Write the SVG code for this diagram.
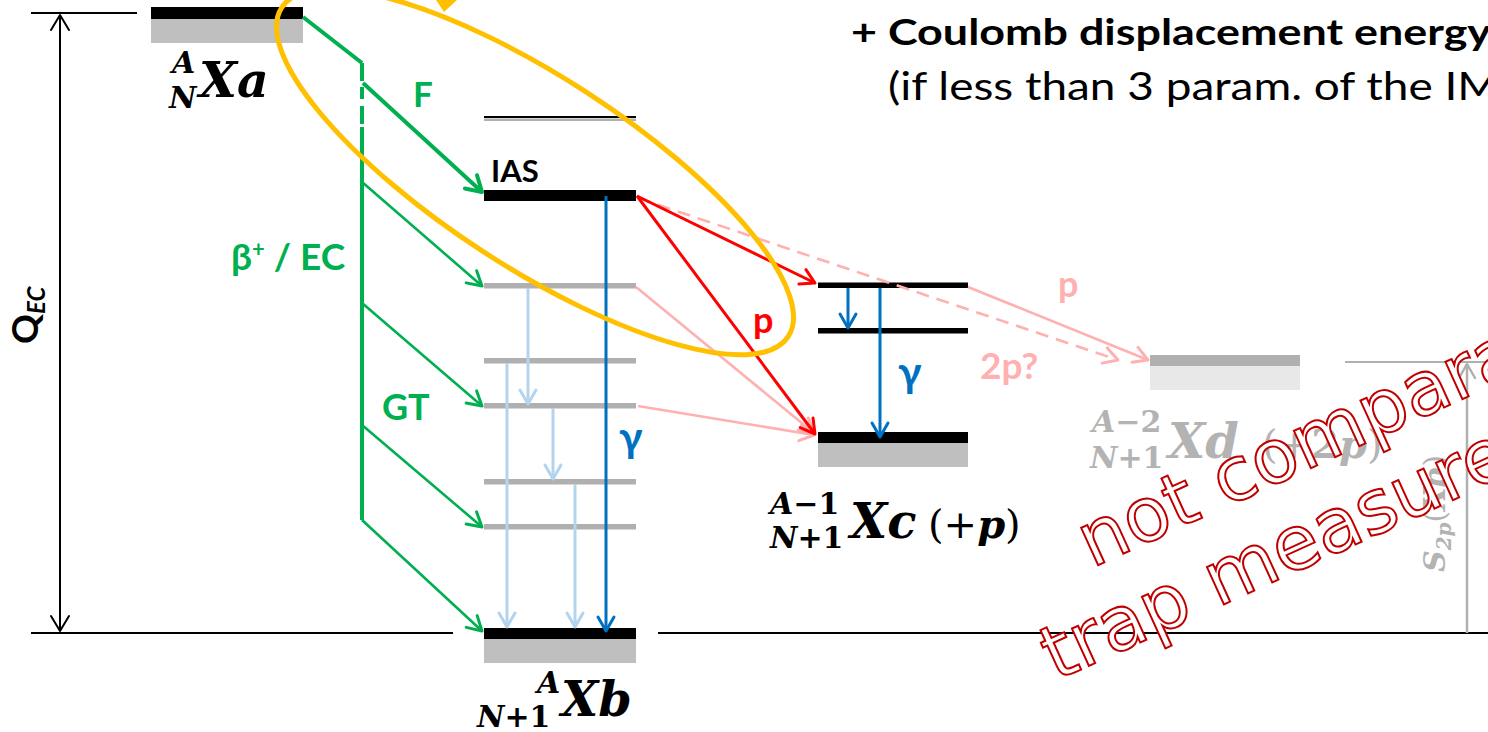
<svg xmlns="http://www.w3.org/2000/svg" width="1488" height="732" viewBox="0 0 1488 732">
<defs>
<style>
.sans{font-family:"Lato","Open Sans","Liberation Sans",sans-serif;font-weight:bold;}
.math{font-family:"DejaVu Serif","Liberation Serif",serif;font-weight:bold;}
.it{font-style:italic;}
.nb{font-weight:normal;}
.blk{fill:#000;}
.sh{fill:#bfbfbf;}
.gl{fill:#b0b0b0;}
.ln{stroke:#000;stroke-width:2;fill:none;}
.g4{stroke:#00b050;stroke-width:4;fill:none;stroke-linejoin:round;}
.g3{stroke:#00b050;stroke-width:2.6;fill:none;}
.red{stroke:#ff0000;stroke-width:3;fill:none;}
.pink{stroke:#ffb0b0;stroke-width:2.6;fill:none;}
.blue{stroke:#0070c0;stroke-width:3;fill:none;}
.lb{stroke:#b4d4ee;stroke-width:3;fill:none;}
.wm{font-family:"DejaVu Sans","Verdana",sans-serif;font-size:75px;fill:#fff;stroke:#c00000;stroke-width:2;}
</style>
<marker id="mG4" viewBox="-18 -11 22 22" refX="0" refY="0" markerWidth="22" markerHeight="22" markerUnits="userSpaceOnUse" orient="auto" overflow="visible"><path d="M-15,-9 L0,0 L-15,9" fill="none" stroke="#00b050" stroke-width="4" stroke-linecap="round" stroke-linejoin="round"/></marker>
<marker id="mG" viewBox="-18 -11 22 22" refX="0" refY="0" markerWidth="22" markerHeight="22" markerUnits="userSpaceOnUse" orient="auto" overflow="visible"><path d="M-14,-8 L0,0 L-14,8" fill="none" stroke="#00b050" stroke-width="3" stroke-linecap="round" stroke-linejoin="round"/></marker>
<marker id="mR" viewBox="-18 -11 22 22" refX="0" refY="0" markerWidth="22" markerHeight="22" markerUnits="userSpaceOnUse" orient="auto" overflow="visible"><path d="M-14,-8 L0,0 L-14,8" fill="none" stroke="#ff0000" stroke-width="3" stroke-linecap="round" stroke-linejoin="round"/></marker>
<marker id="mP" viewBox="-18 -11 22 22" refX="0" refY="0" markerWidth="22" markerHeight="22" markerUnits="userSpaceOnUse" orient="auto" overflow="visible"><path d="M-14,-8 L0,0 L-14,8" fill="none" stroke="#ffb0b0" stroke-width="3" stroke-linecap="round" stroke-linejoin="round"/></marker>
<marker id="mB" viewBox="-18 -11 22 22" refX="0" refY="0" markerWidth="22" markerHeight="22" markerUnits="userSpaceOnUse" orient="auto" overflow="visible"><path d="M-14,-8 L0,0 L-14,8" fill="none" stroke="#0070c0" stroke-width="3" stroke-linecap="round" stroke-linejoin="round"/></marker>
<marker id="mL" viewBox="-18 -11 22 22" refX="0" refY="0" markerWidth="22" markerHeight="22" markerUnits="userSpaceOnUse" orient="auto" overflow="visible"><path d="M-14,-8 L0,0 L-14,8" fill="none" stroke="#b4d4ee" stroke-width="3" stroke-linecap="round" stroke-linejoin="round"/></marker>
<marker id="mK" viewBox="-18 -11 22 22" refX="0" refY="0" markerWidth="22" markerHeight="22" markerUnits="userSpaceOnUse" orient="auto-start-reverse" overflow="visible"><path d="M-15,-9 L0,0 L-15,9" fill="none" stroke="#000" stroke-width="2" stroke-linecap="round" stroke-linejoin="round"/></marker>
<marker id="mY" viewBox="-18 -11 22 22" refX="0" refY="0" markerWidth="22" markerHeight="22" markerUnits="userSpaceOnUse" orient="auto" overflow="visible"><path d="M-14,-8 L0,0 L-14,8" fill="none" stroke="#b0b0b0" stroke-width="2.5" stroke-linecap="round" stroke-linejoin="round"/></marker>
</defs>
<rect width="1488" height="732" fill="#fff"/>

<g id="axes">
<line class="ln" x1="31" y1="13" x2="137" y2="13"/>
<line class="ln" x1="31" y1="633" x2="453" y2="633"/>
<line class="ln" x1="658" y1="633" x2="1488" y2="633"/>
<line class="ln" x1="60" y1="15" x2="60" y2="631" marker-start="url(#mK)" marker-end="url(#mK)"/>
<text class="sans" transform="translate(38,344) rotate(-90)" font-size="37">Q<tspan class="it" font-size="24" dy="7">EC</tspan></text>
<line x1="1345" y1="362" x2="1488" y2="362" stroke="#b0b0b0" stroke-width="2"/>
<line x1="1467" y1="633" x2="1467" y2="364" stroke="#b0b0b0" stroke-width="2.5" marker-end="url(#mY)"/>
</g>

<g id="level-a">
<rect class="blk" x="151" y="7" width="152" height="12"/>
<rect class="sh" x="151" y="19" width="152" height="24"/>
<text class="math it" x="172" y="73" font-size="30">A</text>
<text class="math it" x="169" y="108" font-size="30">N</text>
<text class="math it" x="199" y="97" font-size="49">Xa</text>
</g>

<g id="level-b">
<rect x="484" y="116" width="152" height="2" fill="#000"/>
<rect x="484" y="118.5" width="152" height="2.5" fill="#b0b0b0"/>
<rect class="blk" x="484" y="190" width="152" height="11"/>
<text class="sans" x="491" y="182" font-size="31">IAS</text>
<rect class="gl" x="484" y="283" width="152" height="5.5"/>
<rect class="gl" x="484" y="358" width="152" height="5.5"/>
<rect class="gl" x="484" y="403" width="152" height="5.5"/>
<rect class="gl" x="484" y="479" width="152" height="5.5"/>
<rect class="gl" x="484" y="524" width="152" height="5.5"/>
<rect class="blk" x="484" y="628" width="152" height="11"/>
<rect class="sh" x="484" y="639" width="152" height="24"/>
<text class="math it" x="537" y="693" font-size="30">A</text>
<text class="math" x="477" y="727" font-size="30"><tspan class="it">N</tspan>+1</text>
<text class="math it" x="561" y="716" font-size="48">Xb</text>
</g>

<g id="level-c">
<rect class="blk" x="818" y="282.5" width="150" height="5.5"/>
<rect class="blk" x="818" y="328" width="150" height="5.5"/>
<rect class="blk" x="818" y="432" width="150" height="11"/>
<rect class="sh" x="818" y="443" width="150" height="24"/>
<text class="math" x="770" y="514" font-size="30"><tspan class="it">A</tspan>−1</text>
<text class="math" x="770" y="548" font-size="30"><tspan class="it">N</tspan>+1</text>
<text class="math it" x="850" y="538" font-size="48">Xc</text>
<text class="math" x="928" y="538" font-size="40"><tspan class="nb">(+</tspan><tspan class="it">p</tspan><tspan class="nb">)</tspan></text>
</g>

<g id="level-d">
<rect x="1150" y="355" width="150" height="11" fill="#b0b0b0"/>
<rect x="1150" y="366" width="150" height="24" fill="#e8e8e8"/>
<text class="math" x="1092" y="432" font-size="30" fill="#b3b3b3"><tspan class="it">A</tspan>−2</text>
<text class="math" x="1090" y="468" font-size="30" fill="#b3b3b3"><tspan class="it">N</tspan>+1</text>
<text class="math it" x="1168" y="458" font-size="48" fill="#b3b3b3">Xd</text>
<text class="math" x="1262" y="458" font-size="40" fill="#b3b3b3"><tspan class="nb">(+</tspan>2<tspan class="it">p</tspan><tspan class="nb">)</tspan></text>
<text class="math" transform="translate(1445,572) rotate(-90)" font-size="30" fill="#b3b3b3"><tspan class="it">S</tspan><tspan font-size="20" dy="6" class="it">2p</tspan><tspan dy="-6" class="nb">(</tspan><tspan class="it">Xb</tspan><tspan class="nb">)</tspan></text>
</g>

<g id="connectors">
<polyline class="g4" points="303,17 362,63"/>
<line class="g4" x1="362" y1="63" x2="362" y2="127" stroke-dasharray="18,6,12,7"/>
<line class="g4" x1="362" y1="127" x2="362" y2="520"/>
<line class="g4" x1="363" y1="83" x2="482" y2="192" marker-end="url(#mG4)"/>
<line class="g3" x1="362" y1="182" x2="482" y2="286" marker-end="url(#mG)"/>
<line class="g3" x1="362" y1="303" x2="482" y2="406" marker-end="url(#mG)"/>
<line class="g3" x1="362" y1="425" x2="482" y2="527" marker-end="url(#mG)"/>
<line class="g3" x1="362" y1="520" x2="482" y2="631" marker-end="url(#mG)"/>

<line class="lb" x1="528" y1="288" x2="528" y2="404" marker-end="url(#mL)"/>
<line class="lb" x1="507" y1="363" x2="507" y2="627" marker-end="url(#mL)"/>
<line class="lb" x1="553" y1="408" x2="553" y2="479" marker-end="url(#mL)"/>
<line class="lb" x1="575" y1="484" x2="575" y2="627" marker-end="url(#mL)"/>

<line class="blue" x1="606" y1="196" x2="606" y2="631" marker-end="url(#mB)"/>
<line class="blue" x1="848" y1="288" x2="848" y2="328" marker-end="url(#mB)"/>
<line class="blue" x1="880" y1="288" x2="880" y2="437" marker-end="url(#mB)"/>

<line class="pink" x1="636" y1="287" x2="814" y2="433" marker-end="url(#mP)"/>
<line class="pink" x1="638" y1="406" x2="814" y2="435" marker-end="url(#mP)"/>
<line class="pink" x1="638" y1="198" x2="1118" y2="360" stroke-width="3" stroke-dasharray="13,8" marker-end="url(#mP)"/>
<line class="pink" x1="968" y1="287" x2="1148" y2="360" marker-end="url(#mP)"/>

<line class="red" x1="637" y1="196" x2="815" y2="283" marker-end="url(#mR)"/>
<line class="red" x1="637" y1="196" x2="815" y2="434" marker-end="url(#mR)"/>
</g>

<g id="labels">
<text class="sans" x="413" y="107" font-size="35" fill="#00b050">F</text>
<text class="sans" x="231" y="270" font-size="37" fill="#00b050">β<tspan font-size="22" dy="-13">+</tspan><tspan dy="13"> / EC</tspan></text>
<text class="sans" x="382" y="420" font-size="36" fill="#00b050">GT</text>
<text class="sans" x="619" y="452" font-size="42" fill="#0070c0">γ</text>
<text class="sans" x="898" y="387" font-size="42" fill="#0070c0">γ</text>
<text class="sans" x="753" y="333" font-size="36" fill="#ff0000">p</text>
<text class="sans" x="1058" y="297" font-size="36" fill="#ffb0b0">p</text>
<text class="sans" x="980" y="379" font-size="37" fill="#ffb0b0">2p?</text>
</g>

<g id="header">
<text class="sans" x="851" y="45" font-size="37" textLength="640" lengthAdjust="spacingAndGlyphs">+ Coulomb displacement energy</text>
<text x="888" y="100" font-family="Lato,'Open Sans','Liberation Sans',sans-serif" font-size="38" textLength="612" lengthAdjust="spacingAndGlyphs">(if less than 3 param. of the IM</text>
</g>

<g id="highlight">
<ellipse cx="535" cy="172" rx="302" ry="95" transform="rotate(33 535 172)" fill="none" stroke="#ffc000" stroke-width="5"/>
<polygon points="436,0 457,0 444,12" fill="#ffc000"/>
</g>

<g id="watermark">
<text class="wm" transform="translate(1092,568) rotate(-24.5)">not comparable</text>
<text class="wm" transform="translate(1056,681) rotate(-24.5)">trap measurement</text>
</g>
</svg>
